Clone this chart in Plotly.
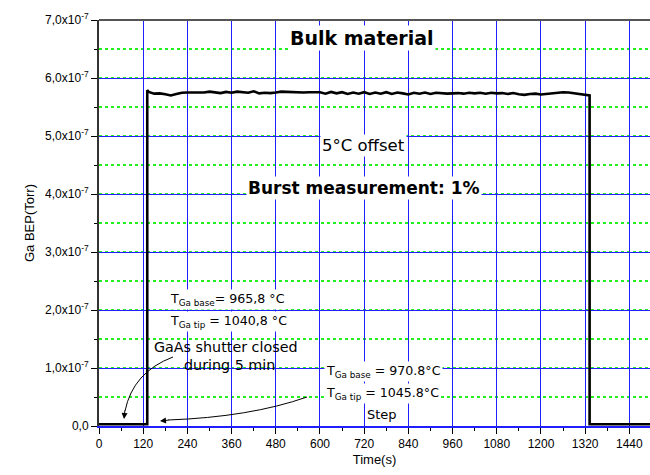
import plotly.graph_objects as go

# ---- data ----
step_on_time = 131
step_off_time = 1332
end_time = 1496
baseline = 0.03  # x1e-7 Torr
plateau_times = [135, 150, 165, 180, 195, 210, 225, 240, 255, 270, 285, 300, 315, 330, 345, 360,
                 375, 390, 405, 420, 435, 450, 465, 480, 495, 510, 525, 540, 555, 570, 585, 600,
                 615, 630, 645, 660, 675, 690, 705, 720, 735, 750, 765, 780, 795, 810, 825, 840,
                 855, 870, 885, 900, 915, 930, 945, 960, 975, 990, 1005, 1020, 1035, 1050, 1065,
                 1080, 1095, 1110, 1125, 1140, 1155, 1170, 1185, 1200, 1215, 1230, 1245, 1260,
                 1275, 1290, 1305, 1320]
plateau_values = [5.76, 5.73, 5.735, 5.72, 5.70, 5.725, 5.745, 5.75, 5.75, 5.745, 5.75, 5.765, 5.75,
                  5.74, 5.76, 5.745, 5.765, 5.75, 5.745, 5.77, 5.735, 5.745, 5.74, 5.75, 5.765, 5.76,
                  5.755, 5.755, 5.75, 5.755, 5.75, 5.755, 5.73, 5.76, 5.735, 5.755, 5.725, 5.75,
                  5.73, 5.755, 5.725, 5.75, 5.73, 5.755, 5.725, 5.75, 5.735, 5.715, 5.745, 5.73,
                  5.75, 5.725, 5.745, 5.735, 5.73, 5.735, 5.74, 5.73, 5.745, 5.735, 5.745, 5.73,
                  5.745, 5.735, 5.74, 5.725, 5.74, 5.72, 5.71, 5.725, 5.73, 5.715, 5.725, 5.735,
                  5.75, 5.755, 5.75, 5.74, 5.725, 5.71]
step_top = 5.79
end_value = 5.70

x_ticks = [0, 120, 240, 360, 480, 600, 720, 840, 960, 1080, 1200, 1320, 1440]
y_tick_vals = [0, 1, 2, 3, 4, 5, 6, 7]
y_tick_text = ["0,0"] + [f"{v},0x10<sup>-7</sup>" for v in y_tick_vals[1:]]

scale = 1e-7
times = [0, step_on_time, step_on_time] + plateau_times + [step_off_time, step_off_time, end_time]
values = [baseline, baseline, step_top] + plateau_values + [end_value, baseline, baseline]
values = [v * scale for v in values]

fig = go.Figure()
fig.add_trace(go.Scatter(x=times, y=values, mode="lines",
                         line=dict(color="black", width=2.6), showlegend=False,
                         hoverinfo="skip"))

AF = "DejaVu Sans, Verdana, sans-serif"
TF = "Liberation Sans, Arial, sans-serif"

TOP, BOT = 20, 426  # plot area pixel rows

fig.update_layout(
    width=650, height=475,
    margin=dict(l=99, r=0, t=TOP, b=475 - BOT),
    paper_bgcolor="white", plot_bgcolor="white",
    font=dict(family=TF, size=12, color="black"),
    showlegend=False,
    xaxis=dict(range=[0, end_time], tickvals=x_ticks, ticks="outside", ticklen=6,
               tickcolor="black", tickwidth=1,
               showgrid=True, gridcolor="#1f1fff", gridwidth=1,
               showline=True, linecolor="#1f1fff", linewidth=2,
               zeroline=False,
               minor=dict(dtick=60, ticks="outside", ticklen=3, tickcolor="black", showgrid=False),
               title=dict(text="Time(s)", font=dict(size=13, family=TF), standoff=4),
               tickfont=dict(size=12, family=TF)),
    yaxis=dict(range=[0, 7e-7], tickvals=[v * scale for v in y_tick_vals], ticktext=y_tick_text,
               ticks="outside", ticklen=6, tickcolor="black",
               showgrid=True, gridcolor="#1f1fff", gridwidth=1,
               showline=True, linecolor="#333333", linewidth=2,
               zeroline=False,
               minor=dict(dtick=0.5e-7, ticks="outside", ticklen=3, tickcolor="black",
                          showgrid=True, gridcolor="#22ee22", griddash="dot", gridwidth=1.6),
               title=dict(text="Ga BEP(Torr)", font=dict(size=13, family=TF), standoff=8),
               tickfont=dict(size=12, family=TF)),
)

# top frame line
fig.add_shape(type="line", xref="paper", yref="paper", x0=0, x1=1, y0=1, y1=1,
              line=dict(color="#555555", width=2))

def px2x(px):
    return (px - 99) / 551.0

def py2y(py):
    return (BOT - py) / float(BOT - TOP)

# curved arrow 1 (shutter)
fig.add_shape(type="path", xref="paper", yref="paper",
              path=f"M {px2x(173)},{py2y(357)} Q {px2x(133)},{py2y(372)} {px2x(125)},{py2y(411)}",
              line=dict(color="black", width=1))
# curved arrow 2 (step)
fig.add_shape(type="path", xref="paper", yref="paper",
              path=f"M {px2x(307)},{py2y(397)} Q {px2x(250)},{py2y(417)} {px2x(168)},{py2y(420)}",
              line=dict(color="black", width=1))

ann = []
def A(text, px, py, size=14, bold=False, bg=None, xanchor="center"):
    t = f"<b>{text}</b>" if bold else text
    d = dict(text=t, xref="paper", yref="paper", x=px2x(px), y=py2y(py),
             xanchor=xanchor, yanchor="middle", showarrow=False,
             font=dict(family=AF, size=size, color="black"))
    if bg:
        d["bgcolor"] = bg
        d["borderpad"] = 1
    ann.append(d)

A("Bulk material", 362, 38, size=19, bold=True, bg="white")
A("5°C offset", 363.5, 145, size=16.5, bg="white")
A("Burst measurement: 1%", 363.5, 188, size=17, bold=True, bg="white")
A("T<sub>Ga base</sub>= 965,8 °C", 168, 299, size=12.6, bg="white", xanchor="left")
A("T<sub>Ga tip</sub> = 1040,8 °C", 168, 321, size=12.6, bg="white", xanchor="left")
A("GaAs shutter closed", 226, 347, size=14.3)
A("during 5 min", 229, 365, size=14.3)
A("T<sub>Ga base</sub> = 970.8°C", 324, 371, size=12.6, bg="white", xanchor="left")
A("T<sub>Ga tip</sub> = 1045.8°C", 324, 393, size=12.6, bg="white", xanchor="left")
A("Step", 382, 414, size=13)

# arrowheads
ann.append(dict(text="", xref="paper", yref="paper", x=px2x(124), y=py2y(419),
                showarrow=True, arrowhead=2, arrowsize=1.2, arrowwidth=1, arrowcolor="black",
                ax=1, ay=-10))
ann.append(dict(text="", xref="paper", yref="paper", x=px2x(160), y=py2y(421),
                showarrow=True, arrowhead=2, arrowsize=1.2, arrowwidth=1, arrowcolor="black",
                ax=10, ay=-1))
fig.update_layout(annotations=ann)

fig.write_html("out.html", config={"displayModeBar": False},
               post_script="document.body.style.margin='0px';document.body.style.overflow='hidden';")
